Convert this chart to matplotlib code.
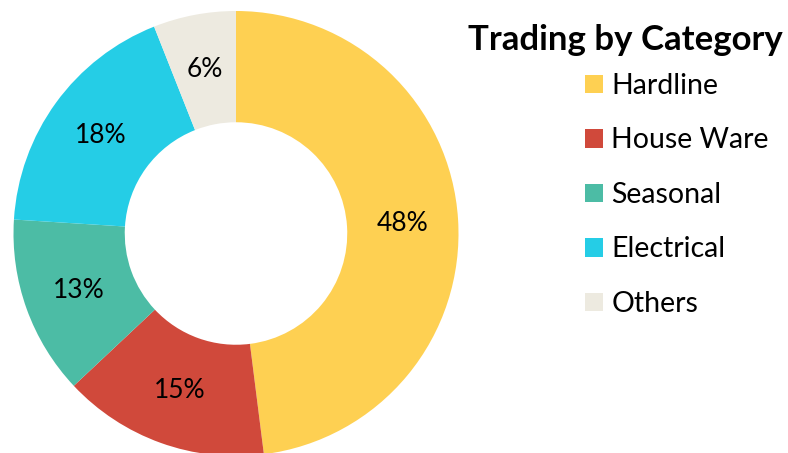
import matplotlib
matplotlib.use("Agg")
import matplotlib.pyplot as plt
from matplotlib.patches import Patch

plt.rcParams['font.family'] = ['Lato', 'DejaVu Sans']

categories = ['Hardline', 'House Ware', 'Seasonal', 'Electrical', 'Others']
shares = [48, 15, 13, 18, 6]
colors = ['#FED052', '#D0493B', '#4CBCA5', '#25CDE6', '#EDEAE0']
title = 'Trading by Category'

W, H = 788, 453
fig = plt.figure(figsize=(W / 100, H / 100), dpi=100)

# pie centre and radius in pixels
cx, cy, r = 236, 233.5, 222.5
ax = fig.add_axes([(cx - r) / W, (H - cy - r) / H, 2 * r / W, 2 * r / H])

wedges, texts, autotexts = ax.pie(
    shares, colors=colors, startangle=90, counterclock=False,
    radius=1, autopct='%d%%', pctdistance=0.75,
    wedgeprops=dict(width=0.5, edgecolor='none'),
    textprops=dict(fontsize=19, color='black'))
ax.set_xlim(-1, 1)
ax.set_ylim(-1, 1)
ax.set_aspect('equal')
ax.axis('off')

fig.text(625.5 / W, 1 - 40 / H, title, fontsize=25, fontweight='bold',
         ha='center', va='center')

handles = [Patch(facecolor=c, edgecolor='none') for c in colors]
fig.legend(handles, categories, loc='upper left',
           bbox_to_anchor=(585 / W, 1 - 73 / H), frameon=False,
           fontsize=20.5, handlelength=0.63, handleheight=0.63,
           handletextpad=0.3, labelspacing=1.0, borderpad=0,
           borderaxespad=0)

fig.savefig('out.png', dpi=100)
